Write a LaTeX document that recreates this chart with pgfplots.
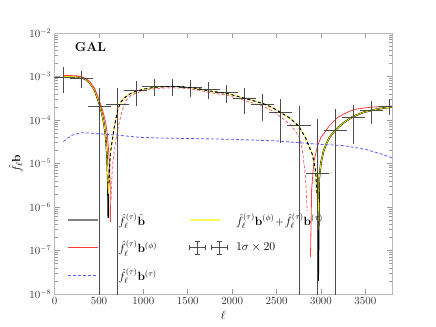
\documentclass[border=0pt]{standalone}
\usepackage{pgfplots}
\pgfplotsset{compat=1.18}
\usepackage{amsmath,amssymb}

\definecolor{myred}{RGB}{255,60,60}
\definecolor{mypink}{RGB}{255,95,95}
\definecolor{myblue}{RGB}{90,90,255}
\definecolor{myyellow}{RGB}{240,240,0}
\definecolor{legyellow}{RGB}{250,250,90}
\definecolor{leggray}{RGB}{128,128,128}
\definecolor{barcol}{RGB}{77,77,77}

\begin{document}
\begin{tikzpicture}
\begin{axis}[
 width=337.4bp,height=261bp,scale only axis,
 xmin=0,xmax=3800,xtick={0,500,...,3500},
 ymode=log,ymin=1e-8,ymax=1e-2,
 ytick={1e-8,1e-7,1e-6,1e-5,1e-4,1e-3,1e-2},
 scaled x ticks=false,
 xticklabel style={/pgf/number format/1000 sep={}},
 axis line style={gray!55},
 every tick/.style={gray!80,line width=0.6bp},
 major tick length=5bp,minor tick length=3bp,
 tick label style={font=\fontsize{10.5}{12}\selectfont,black!80},
 xlabel={$\ell$},ylabel={$\hat{f}_\ell\mathbf{b}$},
 label style={font=\fontsize{13}{15}\selectfont},
 legend columns=2,legend cell align=left,
 legend image code/.code={\draw[#1] (0bp,0bp) -- (30bp,0bp);},
 legend style={at={(rel axis cs:0.0368,0.318)},anchor=north west,draw=none,fill=none,
  inner sep=0pt,font=\fontsize{12}{14}\selectfont,row sep=10bp,
  /tikz/column 1/.style={column sep=17bp},
  /tikz/column 2/.style={column sep=30bp},
  /tikz/column 3/.style={column sep=6bp}},
]
% f b^(phi), negative part (dashed) and positive part at high ell
\addplot[mypink,line width=0.8bp,dash pattern=on 3bp off 2bp,forget plot] coordinates {
(636,1.5e-6)(650,8e-6)(673,1.9e-5)(700,4.5e-5)(729,9.1e-5)(760,1.6e-4)(804,2.8e-4)
(850,3.55e-4)(900,4.0e-4)(1000,4.7e-4)(1126,5.25e-4)(1250,5.45e-4)(1321,5.5e-4)
(1400,5.45e-4)(1527,5.22e-4)(1630,4.82e-4)(1730,4.32e-4)(1861,3.93e-4)(1936,3.74e-4)
(2040,3.25e-4)(2142,2.8e-4)(2245,2.42e-4)(2345,2.08e-4)(2450,1.64e-4)(2551,1.16e-4)
(2650,8e-5)(2716,5.4e-5)(2754,4.1e-5)(2788,2.2e-5)(2826,5e-6)(2845,8e-7)};
\addplot[myred,line width=0.8bp,forget plot] coordinates {
(2882,7e-8)(2895,2.5e-6)(2920,1.1e-5)(2960,2.5e-5)(3000,4.0e-5)(3042,5.2e-5)
(3090,7.2e-5)(3136,9.0e-5)(3190,1.15e-4)(3250,1.35e-4)(3324,1.6e-4)(3400,1.78e-4)
(3500,1.9e-4)(3585,1.98e-4)(3700,2.05e-4)(3800,2.1e-4)};
% f b-hat, positive part at high ell
\addplot[black,line width=1.6bp,forget plot] coordinates {
(2968,2e-8)(2980,4.5e-6)(3000,1.05e-5)(3030,1.95e-5)(3060,2.85e-5)(3100,4.1e-5)
(3160,5.8e-5)(3250,8.5e-5)(3360,1.2e-4)(3480,1.5e-4)(3585,1.7e-4)(3700,1.88e-4)
(3800,2.0e-4)};
% legend entry 1: f b-hat, positive part at low ell
\addplot[black,line width=1.6bp,legend image post style={draw=leggray,line width=2.5bp}] coordinates {
(100,1.0e-3)(150,1.0e-3)(200,1.0e-3)(250,9.9e-4)(300,9.5e-4)(350,8.6e-4)(400,7.0e-4)
(450,4.9e-4)(500,2.5e-4)(530,1.5e-4)(555,8.5e-5)(575,4.2e-5)(590,1.5e-5)(600,4e-6)
(605,5.6e-7)};
\addlegendentry{$\hat{f}_\ell^{(\tau)}\hat{\mathbf{b}}$}
% legend entry 2: |f b^(phi) + f b^(tau)|
\addplot[myyellow,line width=0.8bp,legend image post style={draw=legyellow,line width=1.2bp}] coordinates {
(100,1.0e-3)(150,1.0e-3)(200,1.0e-3)(250,9.9e-4)(300,9.5e-4)(350,8.6e-4)(400,7.0e-4)
(450,4.9e-4)(500,2.5e-4)(530,1.5e-4)(555,8.5e-5)(575,4.2e-5)(590,1.5e-5)(600,4e-6)
(605,2e-6)(612,3.5e-6)(625,1.4e-5)(640,2.6e-5)(654,3.8e-5)(670,6.5e-5)(692,1.1e-4)
(714,1.8e-4)(747,2.6e-4)(800,3.4e-4)(850,4.0e-4)(900,4.45e-4)(1000,5.1e-4)
(1126,5.65e-4)(1250,5.85e-4)(1321,5.9e-4)(1400,5.85e-4)(1527,5.6e-4)(1630,5.2e-4)
(1730,4.7e-4)(1861,4.3e-4)(1936,4.1e-4)(2040,3.6e-4)(2142,3.15e-4)(2245,2.75e-4)
(2345,2.4e-4)(2450,1.95e-4)(2551,1.47e-4)(2650,1.1e-4)(2716,8.4e-5)(2754,7.0e-5)
(2829,3.8e-5)(2904,1.6e-5)(2941,6.5e-6)(2955,2e-6)(2965,3e-7)(2980,4.5e-6)
(3000,1.05e-5)(3030,1.95e-5)(3060,2.85e-5)(3100,4.1e-5)(3160,5.8e-5)(3250,8.5e-5)
(3360,1.2e-4)(3480,1.5e-4)(3585,1.7e-4)(3700,1.88e-4)(3800,2.0e-4)};
\addlegendentry{$\hat{f}_\ell^{(\tau)}\mathbf{b}^{(\phi)}\!+\!\hat{f}_\ell^{(\tau)}\mathbf{b}^{(\tau)}$}
% legend entry 3: f b^(phi), positive part at low ell
\addplot[myred,line width=0.8bp] coordinates {
(100,1.05e-3)(150,1.05e-3)(200,1.045e-3)(250,1.035e-3)(300,9.95e-4)(350,9.05e-4)
(400,7.45e-4)(450,5.35e-4)(500,2.95e-4)(530,1.95e-4)(555,1.3e-4)(575,8.7e-5)
(590,5.5e-5)(605,2.5e-5)(615,1.2e-5)(625,4e-6)(630,4.5e-7)};
\addlegendentry{$\hat{f}_\ell^{(\tau)}\mathbf{b}^{(\phi)}$}
% legend entry 4: binned measurement, 1 sigma x 20
\addplot[draw=none,mark=none,
 legend image code/.code={\draw[barcol,line width=0.8bp]
 (0bp,0bp) -- (16bp,0bp) (8bp,-6.5bp) -- (8bp,6.5bp) (0bp,-2.5bp) -- (0bp,2.5bp) (16bp,-2.5bp) -- (16bp,2.5bp)
 (5.5bp,-6.5bp) -- (10.5bp,-6.5bp) (5.5bp,6.5bp) -- (10.5bp,6.5bp)
 (22bp,0bp) -- (38bp,0bp) (30bp,-6.5bp) -- (30bp,6.5bp) (22bp,-2.5bp) -- (22bp,2.5bp) (38bp,-2.5bp) -- (38bp,2.5bp)
 (27.5bp,-6.5bp) -- (32.5bp,-6.5bp) (27.5bp,6.5bp) -- (32.5bp,6.5bp);},
 error bars/.cd,x dir=both,x explicit,y dir=both,y explicit,
 error bar style={draw=barcol,line width=0.8bp},
 error mark options={draw=barcol,mark size=2.5bp,line width=0.8bp}]
 table[row sep=\\,x=x,y=y,x error=ex,y error plus=ep,y error minus=em] {
x y ex ep em\\
100 9.7e-4 102 5.0e-4 5.0e-4\\
304 9.0e-4 102 2.9e-4 2.9e-4\\
508 2.1e-4 102 2.6e-4 2.09999e-4\\
712 2.3e-4 102 2.4e-4 2.29999e-4\\
916 4.7e-4 102 2.3e-4 2.3e-4\\
1120 5.8e-4 102 1.8e-4 1.8e-4\\
1324 5.9e-4 102 1.9e-4 1.9e-4\\
1528 5.65e-4 102 1.75e-4 1.75e-4\\
1732 5.0e-4 102 1.6e-4 1.6e-4\\
1936 4.2e-4 102 1.4e-4 1.4e-4\\
2140 3.15e-4 102 1.57e-4 1.57e-4\\
2344 2.27e-4 102 1.17e-4 1.17e-4\\
2548 1.49e-4 102 1.15e-4 1.15e-4\\
2752 7.7e-5 102 1.1e-4 7.6999e-5\\
2956 5.9e-6 102 8.5e-5 5.899e-6\\
3160 5.7e-5 102 1.0e-4 5.6999e-5\\
3364 1.12e-4 102 8.0e-5 8.0e-5\\
3568 1.67e-4 102 7.5e-5 7.5e-5\\
3772 2.07e-4 102 5.7e-5 5.7e-5\\
};
\addlegendentry{$1\sigma\times20$}
% legend entry 5: f b^(tau), negative everywhere
\addplot[myblue,line width=0.8bp,dash pattern=on 3bp off 2bp] coordinates {
(100,3.2e-5)(150,3.9e-5)(200,4.5e-5)(300,5.1e-5)(400,5.0e-5)(500,4.8e-5)(700,4.5e-5)
(960,4.0e-5)(1200,3.85e-5)(1500,3.75e-5)(2000,3.6e-5)(2500,3.3e-5)(2760,3.0e-5)
(3000,2.75e-5)(3240,2.6e-5)(3400,2.3e-5)(3510,2.1e-5)(3660,1.7e-5)(3800,1.35e-5)};
\addlegendentry{$\hat{f}_\ell^{(\tau)}\mathbf{b}^{(\tau)}$}
% f b-hat, negative part, on top
\addplot[black,line width=1bp,dash pattern=on 3bp off 2.5bp,forget plot] coordinates {
(612,3.5e-6)(625,1.4e-5)(640,2.6e-5)(654,3.8e-5)(670,6.5e-5)(692,1.1e-4)(714,1.8e-4)
(747,2.6e-4)(800,3.4e-4)(850,4.0e-4)(900,4.45e-4)(1000,5.1e-4)(1126,5.65e-4)
(1250,5.85e-4)(1321,5.9e-4)(1400,5.85e-4)(1527,5.6e-4)(1630,5.2e-4)(1730,4.7e-4)
(1861,4.3e-4)(1936,4.1e-4)(2040,3.6e-4)(2142,3.15e-4)(2245,2.75e-4)(2345,2.4e-4)
(2450,1.95e-4)(2551,1.47e-4)(2650,1.1e-4)(2716,8.4e-5)(2754,7.0e-5)(2829,3.8e-5)
(2904,1.6e-5)(2941,6.5e-6)(2955,2e-6)};
\node[anchor=west,font=\bfseries\fontsize{13}{15}\selectfont] at (rel axis cs:0.05,0.948) {GAL};
\end{axis}
\path (current axis.south west) ++(-54.6bp,-33bp) rectangle ++(436bp,327bp);
\end{tikzpicture}
\end{document}
